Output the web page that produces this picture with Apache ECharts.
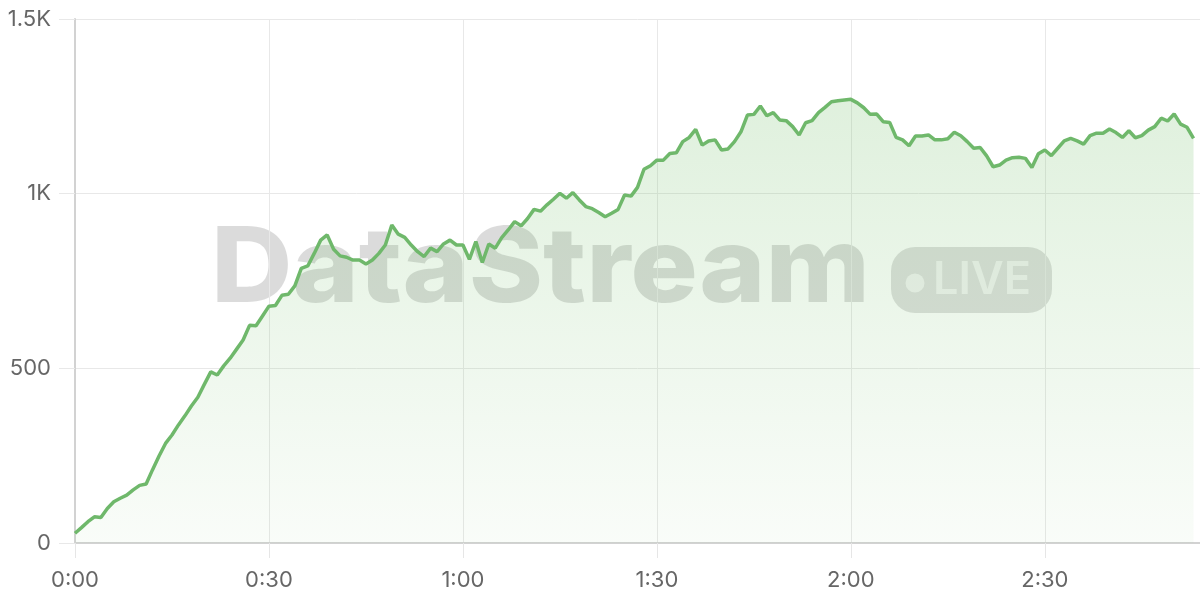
<!DOCTYPE html>
<html>
<head>
<meta charset="utf-8">
<script src="https://cdn.jsdelivr.net/npm/echarts@6/dist/echarts.min.js"></script>
<style>
html,body{margin:0;padding:0;background:#fff;}
#chart{width:1200px;height:600px;}
</style>
</head>
<body>
<div id="chart"></div>
<script>
// one sample per second, starting at 0:00
const values = [
  28, 44, 61, 75, 73, 99, 118, 128, 137, 152,
  165, 169, 210, 249, 285, 309, 338, 364, 392, 417,
  454, 490, 481, 507, 529, 555, 581, 623, 622, 650,
  678, 680, 709, 712, 736, 786, 793, 829, 867, 882,
  841, 822, 818, 810, 810, 799, 810, 829, 853, 910,
  884, 875, 853, 834, 820, 844, 834, 856, 867, 853,
  853, 812, 863, 803, 856, 844, 874, 896, 920, 908,
  929, 955, 950, 968, 984, 1001, 987, 1003, 982, 963,
  957, 946, 934, 944, 955, 996, 993, 1018, 1070, 1080,
  1096, 1096, 1115, 1117, 1149, 1161, 1184, 1139, 1151, 1154,
  1125, 1128, 1149, 1177, 1225, 1227, 1251, 1223, 1232, 1211,
  1209, 1192, 1168, 1203, 1209, 1232, 1247, 1263, 1266, 1268,
  1270, 1260, 1246, 1227, 1228, 1206, 1204, 1161, 1154, 1137,
  1165, 1165, 1168, 1154, 1154, 1157, 1176, 1166, 1149, 1130,
  1132, 1108, 1077, 1082, 1096, 1103, 1104, 1101, 1075, 1114,
  1125, 1109, 1130, 1151, 1158, 1151, 1142, 1166, 1173, 1173,
  1185, 1175, 1161, 1180, 1160, 1166, 1182, 1192, 1216, 1208,
  1228, 1199, 1190, 1158
];
const xTickLabels = ['0:00', '0:30', '1:00', '1:30', '2:00', '2:30'];
const yTickLabels = ['0', '500', '1K', '1.5K'];
const watermarkText = 'DataStream';
const badgeText = 'LIVE';

const seriesData = values.map((v, i) => [i, v]);

// fit the watermark to its width in the reference
const wmFont = '800 104px Inter';
const mctx = document.createElement('canvas').getContext('2d');
mctx.font = wmFont;
const wmWidth = mctx.measureText(watermarkText).width || 600;
const wmScale = 659 / wmWidth;

const chart = echarts.init(document.getElementById('chart'), null, {renderer: 'canvas'});
const labelFont = {fontFamily: 'Inter', fontSize: 22, color: '#666'};
chart.setOption({
  animation: false,
  backgroundColor: '#fff',
  grid: {left: 75, right: 0, top: 19, bottom: 57, containLabel: false},
  xAxis: {
    type: 'value', min: 0, max: 174, interval: 30,
    axisLine: {show: true, lineStyle: {color: '#d2d2d2', width: 2}},
    axisTick: {show: true, length: 15, lineStyle: {color: '#e6e6e6', width: 1}},
    splitLine: {show: true, lineStyle: {color: '#e8e8e8', width: 1}},
    axisLabel: Object.assign({margin: 26, showMaxLabel: false,
      formatter: v => xTickLabels[Math.round(v / 30)] || ''}, labelFont)
  },
  yAxis: {
    type: 'value', min: 0, max: 1500, interval: 500,
    axisLine: {show: true, lineStyle: {color: '#d2d2d2', width: 2}},
    axisTick: {show: true, length: 16, lineStyle: {color: '#e8e8e8', width: 1}},
    splitLine: {show: true, lineStyle: {color: '#e8e8e8', width: 1}},
    axisLabel: Object.assign({margin: 24,
      formatter: v => yTickLabels[Math.round(v / 500)]}, labelFont)
  },
  graphic: [
    {type: 'text', z: 0, x: 211, y: 219, scaleX: wmScale, scaleY: 1,
      style: {text: watermarkText, font: wmFont, fill: 'rgba(0,0,0,0.14)',
        textAlign: 'left', textVerticalAlign: 'top', verticalAlign: 'top'}},
    {type: 'rect', z: 0, shape: {x: 891, y: 247, width: 161, height: 66, r: 24},
      style: {fill: 'rgba(0,0,0,0.13)'}},
    {type: 'circle', z: 0, shape: {cx: 915, cy: 283, r: 9.5},
      style: {fill: 'rgba(255,255,255,0.6)'}},
    {type: 'text', z: 0, left: 933, top: 258,
      style: {text: badgeText, font: '600 45px Inter', fill: 'rgba(255,255,255,0.6)'}}
  ],
  series: [{
    type: 'line',
    data: seriesData,
    showSymbol: false,
    symbol: 'none',
    lineStyle: {color: '#6fb86b', width: 3.5},
    itemStyle: {color: '#6fb86b'},
    areaStyle: {
      color: new echarts.graphic.LinearGradient(0, 0, 0, 1, [
        {offset: 0, color: 'rgba(115,191,105,0.32)'},
        {offset: 1, color: 'rgba(115,191,105,0.06)'}
      ])
    }
  }]
});
</script>
</body>
</html>
